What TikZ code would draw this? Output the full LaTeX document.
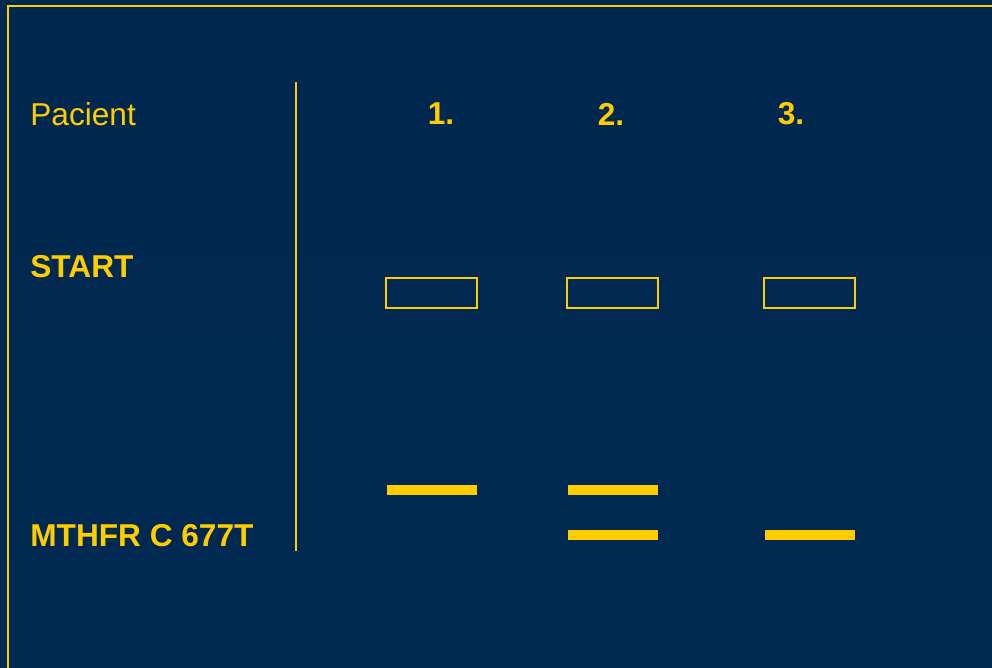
\documentclass[tikz,border=0pt]{standalone}
\usepackage{fontspec}
\setmainfont{Liberation Sans}
\usepackage{tikz}
\usetikzlibrary{positioning}
\definecolor{gelyellow}{HTML}{FFCC00}
\definecolor{bgtop}{HTML}{00274e}
\definecolor{bgmid}{HTML}{00386b}
\definecolor{bgbot}{HTML}{002a52}

\begin{document}
\begin{tikzpicture}[x=0.02cm,y=-0.02cm]

\tikzset{
  rowlabel/.style={font=\fontsize{18}{20}\selectfont, text=gelyellow, anchor=west, inner sep=0pt},
  lanelabel/.style={font=\fontsize{18}{20}\selectfont\bfseries, text=gelyellow, inner sep=0pt},
  well/.style={draw=gelyellow, line width=1.1pt, minimum width=1.82cm, minimum height=0.60cm, inner sep=0pt},
  band/.style={fill=gelyellow, minimum width=1.80cm, minimum height=0.20cm, inner sep=0pt},
  frameline/.style={gelyellow, line width=1.2pt}
}

% Background and frame
\shade[top color=bgtop, middle color=bgmid, bottom color=bgbot] (0,0) rectangle (992,667);
\useasboundingbox (0,0) rectangle (992,667);
\coordinate (fbl) at (8,672);
\coordinate (ftl) at (8,6);
\coordinate (ftr) at (998,6);
\draw[frameline] (fbl) -- (ftl) -- (ftr);

% Row labels
\node[rowlabel] (pacient) at (30,114) {Pacient};
\node[rowlabel, font=\fontsize{18}{20}\selectfont\bfseries] (start) at (30,267) {START};
\node[rowlabel, font=\fontsize{18}{20}\selectfont\bfseries] (mthfr) at (30,536) {MTHFR C 677T};

% Divider
\coordinate (divtop) at (296,82);
\coordinate (divbot) at (296,551);
\draw[gelyellow, line width=0.9pt] (divtop) -- (divbot);

% Lanes
\node[lanelabel] (lane1) at (441,114) {1.};
\node[lanelabel] (lane2) at (611,114) {2.};
\node[lanelabel] (lane3) at (791,114) {3.};

% Wells
\node[well] (w1) at (431.5,293) {};
\node[well] (w2) at (612.5,293) {};
\node[well] (w3) at (809.5,293) {};

% Bands
\node[band] (b1a) at (432,490) {};
\node[band] (b2a) at (613,490) {};
\node[band] (b2b) at (613,535) {};
\node[band] (b3b) at (810,535) {};

\end{tikzpicture}
\end{document}
